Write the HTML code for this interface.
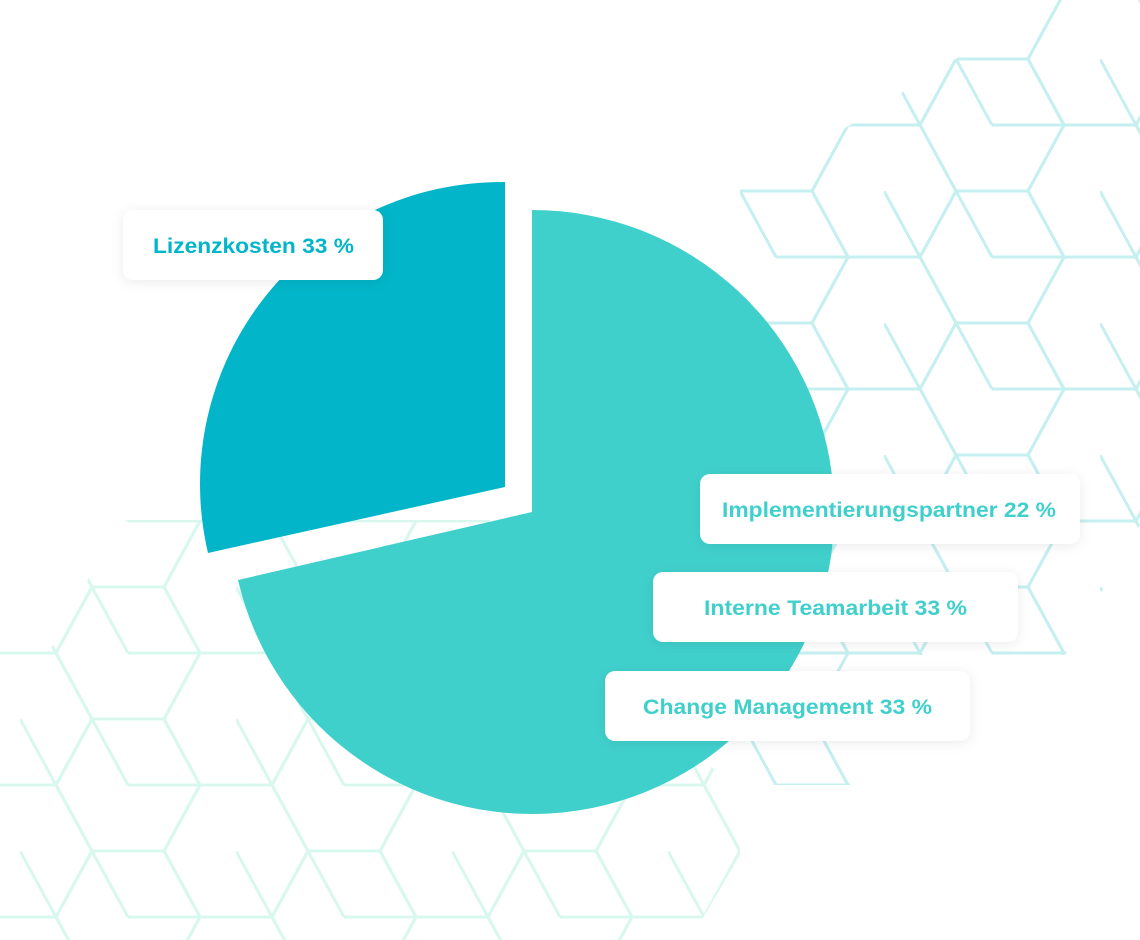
<!DOCTYPE html>
<html><head><meta charset="utf-8"><style>
html,body{margin:0;padding:0;background:#fff;width:1140px;height:940px;overflow:hidden}
svg{display:block}
text{font-family:"Liberation Sans",sans-serif;font-weight:bold;font-size:21px}
</style></head><body>
<svg width="1140" height="940" viewBox="0 0 1140 940" xmlns="http://www.w3.org/2000/svg">
<defs>
<pattern id="hexA" patternUnits="userSpaceOnUse" x="884" y="191" width="216" height="132">
<g fill="none" stroke="#c6eff0" stroke-width="3">
<path d="M-72,0 L-36,-66 L36,-66 L72,0 L36,66 L-36,66 Z"/>
<path d="M144,0 L180,-66 L252,-66 L288,0 L252,66 L180,66 Z"/>
<path d="M-72,132 L-36,66 L36,66 L72,132 L36,198 L-36,198 Z"/>
<path d="M144,132 L180,66 L252,66 L288,132 L252,198 L180,198 Z"/>
<path d="M36,66 L72,0 L144,0 L180,66 L144,132 L72,132 Z"/>
<path d="M0,0 L36,66 M108,66 L72,0 M108,66 L180,66"/>
</g>
</pattern>
<pattern id="hexB" patternUnits="userSpaceOnUse" x="884" y="191" width="216" height="132">
<g fill="none" stroke="#d8f8ef" stroke-width="3">
<path d="M-72,0 L-36,-66 L36,-66 L72,0 L36,66 L-36,66 Z"/>
<path d="M144,0 L180,-66 L252,-66 L288,0 L252,66 L180,66 Z"/>
<path d="M-72,132 L-36,66 L36,66 L72,132 L36,198 L-36,198 Z"/>
<path d="M144,132 L180,66 L252,66 L288,132 L252,198 L180,198 Z"/>
<path d="M36,66 L72,0 L144,0 L180,66 L144,132 L72,132 Z"/>
<path d="M0,0 L36,66 M108,66 L72,0 M108,66 L180,66"/>
</g>
</pattern>
<clipPath id="cA"><polygon points="1030,0 1140,0 1140,525 1065,655 850,655 850,785 740,785 740,190 850,125 957,58"/></clipPath>
<clipPath id="cB"><polygon points="0,650 50,650 120,520 500,520 740,800 740,855 690,940 0,940"/></clipPath>
<filter id="sh" x="-10%" y="-30%" width="120%" height="160%"><feDropShadow dx="0" dy="2" stdDeviation="6" flood-color="#000" flood-opacity="0.08"/></filter>
</defs>
<rect x="0" y="0" width="1140" height="940" fill="url(#hexA)" clip-path="url(#cA)"/>
<rect x="0" y="0" width="1140" height="940" fill="url(#hexB)" clip-path="url(#cB)"/>
<path d="M532,512 L532,210 A302,302 0 1,1 238,580 Z" fill="#40d0cc"/>
<path d="M505,487 L208,553 A302,302 0 0,1 505,182 Z" fill="#02b5c8"/>
<g filter="url(#sh)" fill="#fff">
<rect x="123" y="210" width="260" height="70" rx="10"/>
<rect x="700" y="474" width="380" height="70" rx="10"/>
<rect x="653" y="572" width="365" height="70" rx="10"/>
<rect x="605" y="671" width="365" height="70" rx="10"/>
</g>
<text x="153" y="253" fill="#02b5c8" textLength="201" lengthAdjust="spacingAndGlyphs">Lizenzkosten 33 %</text>
<text x="722" y="517" fill="#40d0cc" textLength="334" lengthAdjust="spacingAndGlyphs">Implementierungspartner 22 %</text>
<text x="704" y="615" fill="#40d0cc" textLength="263" lengthAdjust="spacingAndGlyphs">Interne Teamarbeit 33 %</text>
<text x="643" y="714" fill="#40d0cc" textLength="289" lengthAdjust="spacingAndGlyphs">Change Management 33 %</text>
</svg>
</body></html>
